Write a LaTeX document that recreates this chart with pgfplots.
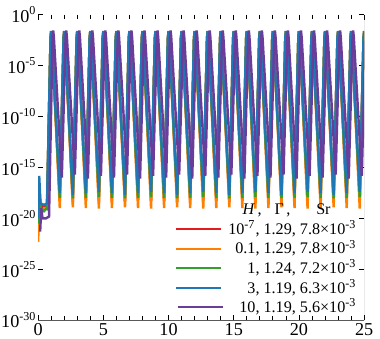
\documentclass[border=0pt]{standalone}
\usepackage{pgfplots}
\pgfplotsset{compat=1.18}
\usepackage{pgfplotstable}
\usepackage{fontspec}
\setmainfont{Liberation Serif}

\definecolor{cred}{HTML}{E41A1C}
\definecolor{corange}{HTML}{FF7F00}
\definecolor{cgreen}{HTML}{33A02C}
\definecolor{cblue}{HTML}{1F78B4}
\definecolor{cpurple}{HTML}{6A3D9A}

% columns: x, then H = 1e-7, 0.1, 1, 3, 10
\pgfplotstableread{
x r o g b p
0 1e-21 5e-23 3e-21 1e-20 5e-22
0.08 1e-17 1e-18 3e-17 1.5e-16 1e-19
0.18 1e-19 3e-20 1e-19 3e-19 1e-20
0.45 2e-19 1e-19 5e-20 2e-19 1e-20
0.68 1e-19 1e-19 1e-19 3e-19 1.5e-20
0.95 5e-3 5e-3 5e-3 5e-3 6e-3
1 2.2e-2 2.4e-2 2.4e-2 2.5e-2 2.8e-2
1.05 5e-3 5e-3 5e-3 5e-3 6e-3
1.66 5e-19 1e-19 1e-18 3e-18 1e-16
1.95 5e-3 5e-3 5e-3 5e-3 6e-3
2 2.2e-2 2.4e-2 2.4e-2 2.5e-2 2.8e-2
2.05 5e-3 5e-3 5e-3 5e-3 6e-3
2.66 4e-19 1.2e-19 9e-19 2e-18 2e-16
2.95 5e-3 5e-3 5e-3 5e-3 6e-3
3 2.2e-2 2.4e-2 2.4e-2 2.5e-2 2.8e-2
3.05 5e-3 5e-3 5e-3 5e-3 6e-3
3.66 6e-19 1e-19 1e-18 3e-18 8e-17
3.95 5e-3 5e-3 5e-3 5e-3 6e-3
4 2.2e-2 2.4e-2 2.4e-2 2.5e-2 2.8e-2
4.05 5e-3 5e-3 5e-3 5e-3 6e-3
4.66 5e-19 9e-20 1.2e-18 4e-18 1.5e-16
4.95 5e-3 5e-3 5e-3 5e-3 6e-3
5 2.2e-2 2.4e-2 2.4e-2 2.5e-2 2.8e-2
5.05 5e-3 5e-3 5e-3 5e-3 6e-3
5.66 5e-19 1e-19 1e-18 3e-18 1e-16
5.95 5e-3 5e-3 5e-3 5e-3 6e-3
6 2.2e-2 2.4e-2 2.4e-2 2.5e-2 2.8e-2
6.05 5e-3 5e-3 5e-3 5e-3 6e-3
6.66 4e-19 1.2e-19 9e-19 2e-18 2e-16
6.95 5e-3 5e-3 5e-3 5e-3 6e-3
7 2.2e-2 2.4e-2 2.4e-2 2.5e-2 2.8e-2
7.05 5e-3 5e-3 5e-3 5e-3 6e-3
7.66 6e-19 1e-19 1e-18 3e-18 8e-17
7.95 5e-3 5e-3 5e-3 5e-3 6e-3
8 2.2e-2 2.4e-2 2.4e-2 2.5e-2 2.8e-2
8.05 5e-3 5e-3 5e-3 5e-3 6e-3
8.66 5e-19 9e-20 1.2e-18 4e-18 1.5e-16
8.95 5e-3 5e-3 5e-3 5e-3 6e-3
9 2.2e-2 2.4e-2 2.4e-2 2.5e-2 2.8e-2
9.05 5e-3 5e-3 5e-3 5e-3 6e-3
9.66 5e-19 1e-19 1e-18 3e-18 1e-16
9.95 5e-3 5e-3 5e-3 5e-3 6e-3
10 2.2e-2 2.4e-2 2.4e-2 2.5e-2 2.8e-2
10.05 5e-3 5e-3 5e-3 5e-3 6e-3
10.66 4e-19 1.2e-19 9e-19 2e-18 2e-16
10.95 5e-3 5e-3 5e-3 5e-3 6e-3
11 2.2e-2 2.4e-2 2.4e-2 2.5e-2 2.8e-2
11.05 5e-3 5e-3 5e-3 5e-3 6e-3
11.66 6e-19 1e-19 1e-18 3e-18 8e-17
11.95 5e-3 5e-3 5e-3 5e-3 6e-3
12 2.2e-2 2.4e-2 2.4e-2 2.5e-2 2.8e-2
12.05 5e-3 5e-3 5e-3 5e-3 6e-3
12.66 5e-19 9e-20 1.2e-18 4e-18 1.5e-16
12.95 5e-3 5e-3 5e-3 5e-3 6e-3
13 2.2e-2 2.4e-2 2.4e-2 2.5e-2 2.8e-2
13.05 5e-3 5e-3 5e-3 5e-3 6e-3
13.66 5e-19 1e-19 1e-18 3e-18 1e-16
13.95 5e-3 5e-3 5e-3 5e-3 6e-3
14 2.2e-2 2.4e-2 2.4e-2 2.5e-2 2.8e-2
14.05 5e-3 5e-3 5e-3 5e-3 6e-3
14.66 4e-19 1.2e-19 9e-19 2e-18 2e-16
14.95 5e-3 5e-3 5e-3 5e-3 6e-3
15 2.2e-2 2.4e-2 2.4e-2 2.5e-2 2.8e-2
15.05 5e-3 5e-3 5e-3 5e-3 6e-3
15.66 6e-19 1e-19 1e-18 3e-18 8e-17
15.95 5e-3 5e-3 5e-3 5e-3 6e-3
16 2.2e-2 2.4e-2 2.4e-2 2.5e-2 2.8e-2
16.05 5e-3 5e-3 5e-3 5e-3 6e-3
16.66 5e-19 9e-20 1.2e-18 4e-18 1.5e-16
16.95 5e-3 5e-3 5e-3 5e-3 6e-3
17 2.2e-2 2.4e-2 2.4e-2 2.5e-2 2.8e-2
17.05 5e-3 5e-3 5e-3 5e-3 6e-3
17.66 5e-19 1e-19 1e-18 3e-18 1e-16
17.95 5e-3 5e-3 5e-3 5e-3 6e-3
18 2.2e-2 2.4e-2 2.4e-2 2.5e-2 2.8e-2
18.05 5e-3 5e-3 5e-3 5e-3 6e-3
18.66 4e-19 1.2e-19 9e-19 2e-18 2e-16
18.95 5e-3 5e-3 5e-3 5e-3 6e-3
19 2.2e-2 2.4e-2 2.4e-2 2.5e-2 2.8e-2
19.05 5e-3 5e-3 5e-3 5e-3 6e-3
19.66 6e-19 1e-19 1e-18 3e-18 8e-17
19.95 5e-3 5e-3 5e-3 5e-3 6e-3
20 2.2e-2 2.4e-2 2.4e-2 2.5e-2 2.8e-2
20.05 5e-3 5e-3 5e-3 5e-3 6e-3
20.66 5e-19 9e-20 1.2e-18 4e-18 1.5e-16
20.95 5e-3 5e-3 5e-3 5e-3 6e-3
21 2.2e-2 2.4e-2 2.4e-2 2.5e-2 2.8e-2
21.05 5e-3 5e-3 5e-3 5e-3 6e-3
21.66 5e-19 1e-19 1e-18 3e-18 1e-16
21.95 5e-3 5e-3 5e-3 5e-3 6e-3
22 2.2e-2 2.4e-2 2.4e-2 2.5e-2 2.8e-2
22.05 5e-3 5e-3 5e-3 5e-3 6e-3
22.66 4e-19 1.2e-19 9e-19 2e-18 2e-16
22.95 5e-3 5e-3 5e-3 5e-3 6e-3
23 2.2e-2 2.4e-2 2.4e-2 2.5e-2 2.8e-2
23.05 5e-3 5e-3 5e-3 5e-3 6e-3
23.66 6e-19 1e-19 1e-18 3e-18 8e-17
23.95 5e-3 5e-3 5e-3 5e-3 6e-3
24 2.2e-2 2.4e-2 2.4e-2 2.5e-2 2.8e-2
24.05 5e-3 5e-3 5e-3 5e-3 6e-3
24.66 5e-19 9e-20 1.2e-18 4e-18 1.5e-16
24.95 5e-3 5e-3 5e-3 5e-3 6e-3
25 2.2e-2 2.4e-2 2.4e-2 2.5e-2 2.8e-2
}\wavedata

\begin{document}
\begin{tikzpicture}
\begin{axis}[
    scale only axis,
    width=161.5pt,
    height=151.3pt,
    xmin=0, xmax=25,
    ymode=log,
    ymin=1e-30, ymax=1,
    axis line style={draw=none},
    tick align=inside,
    xtick={0,5,...,25},
    xticklabels={0,5,10,15,20,25},
    minor x tick num=4,
    ytick={1e-30,1e-25,1e-20,1e-15,1e-10,1e-5,1},
    yticklabels={10\textsuperscript{-30},10\textsuperscript{-25},10\textsuperscript{-20},10\textsuperscript{-15},10\textsuperscript{-10},10\textsuperscript{-5},10\textsuperscript{0}},
    yminorticks=false,
    tick style={black, line width=0.4pt},
    major tick length=2.6pt,
    minor tick length=2pt,
    tick label style={font=\fontsize{9}{10}\selectfont},
    yticklabel style={inner xsep=0.6pt},
    xticklabel style={inner ysep=1.5pt},
    legend style={draw=none, fill=none, at={(0.99,0.0)}, anchor=south east,
      font=\fontsize{8}{9}\selectfont, row sep=-2.6pt, inner sep=0pt},
    legend cell align=right,
    legend image code/.code={\draw[#1, line width=1pt] (0cm,0cm) -- (0.78cm,0cm);},
]
\addlegendimage{empty legend}
\addlegendentry{\textit{H}\,,\hspace{0.8em}Γ\hspace{0.15em},\hspace{1.6em}Sr\hspace*{1.6em}\mbox{}}
\addplot[cred, line width=1.2pt] table[x=x, y=r] {\wavedata};
\addlegendentry{10\textsuperscript{-7}, 1.29, 7.8×10\textsuperscript{-3}}
\addplot[corange, line width=1.2pt] table[x=x, y=o] {\wavedata};
\addlegendentry{0.1, 1.29, 7.8×10\textsuperscript{-3}}
\addplot[cgreen, line width=1.2pt] table[x=x, y=g] {\wavedata};
\addlegendentry{1, 1.24, 7.2×10\textsuperscript{-3}}
\addplot[cblue, line width=1.2pt] table[x=x, y=b] {\wavedata};
\addlegendentry{3, 1.19, 6.3×10\textsuperscript{-3}}
\addplot[cpurple, line width=1.2pt, xshift=1pt] table[x=x, y=p] {\wavedata};
\addlegendentry{10, 1.19, 5.6×10\textsuperscript{-3}}
\draw[gray!70!black, line width=0.5pt] (rel axis cs:0,0) -- (rel axis cs:1,0) -- (rel axis cs:1,1);
\end{axis}
\end{tikzpicture}
\end{document}
